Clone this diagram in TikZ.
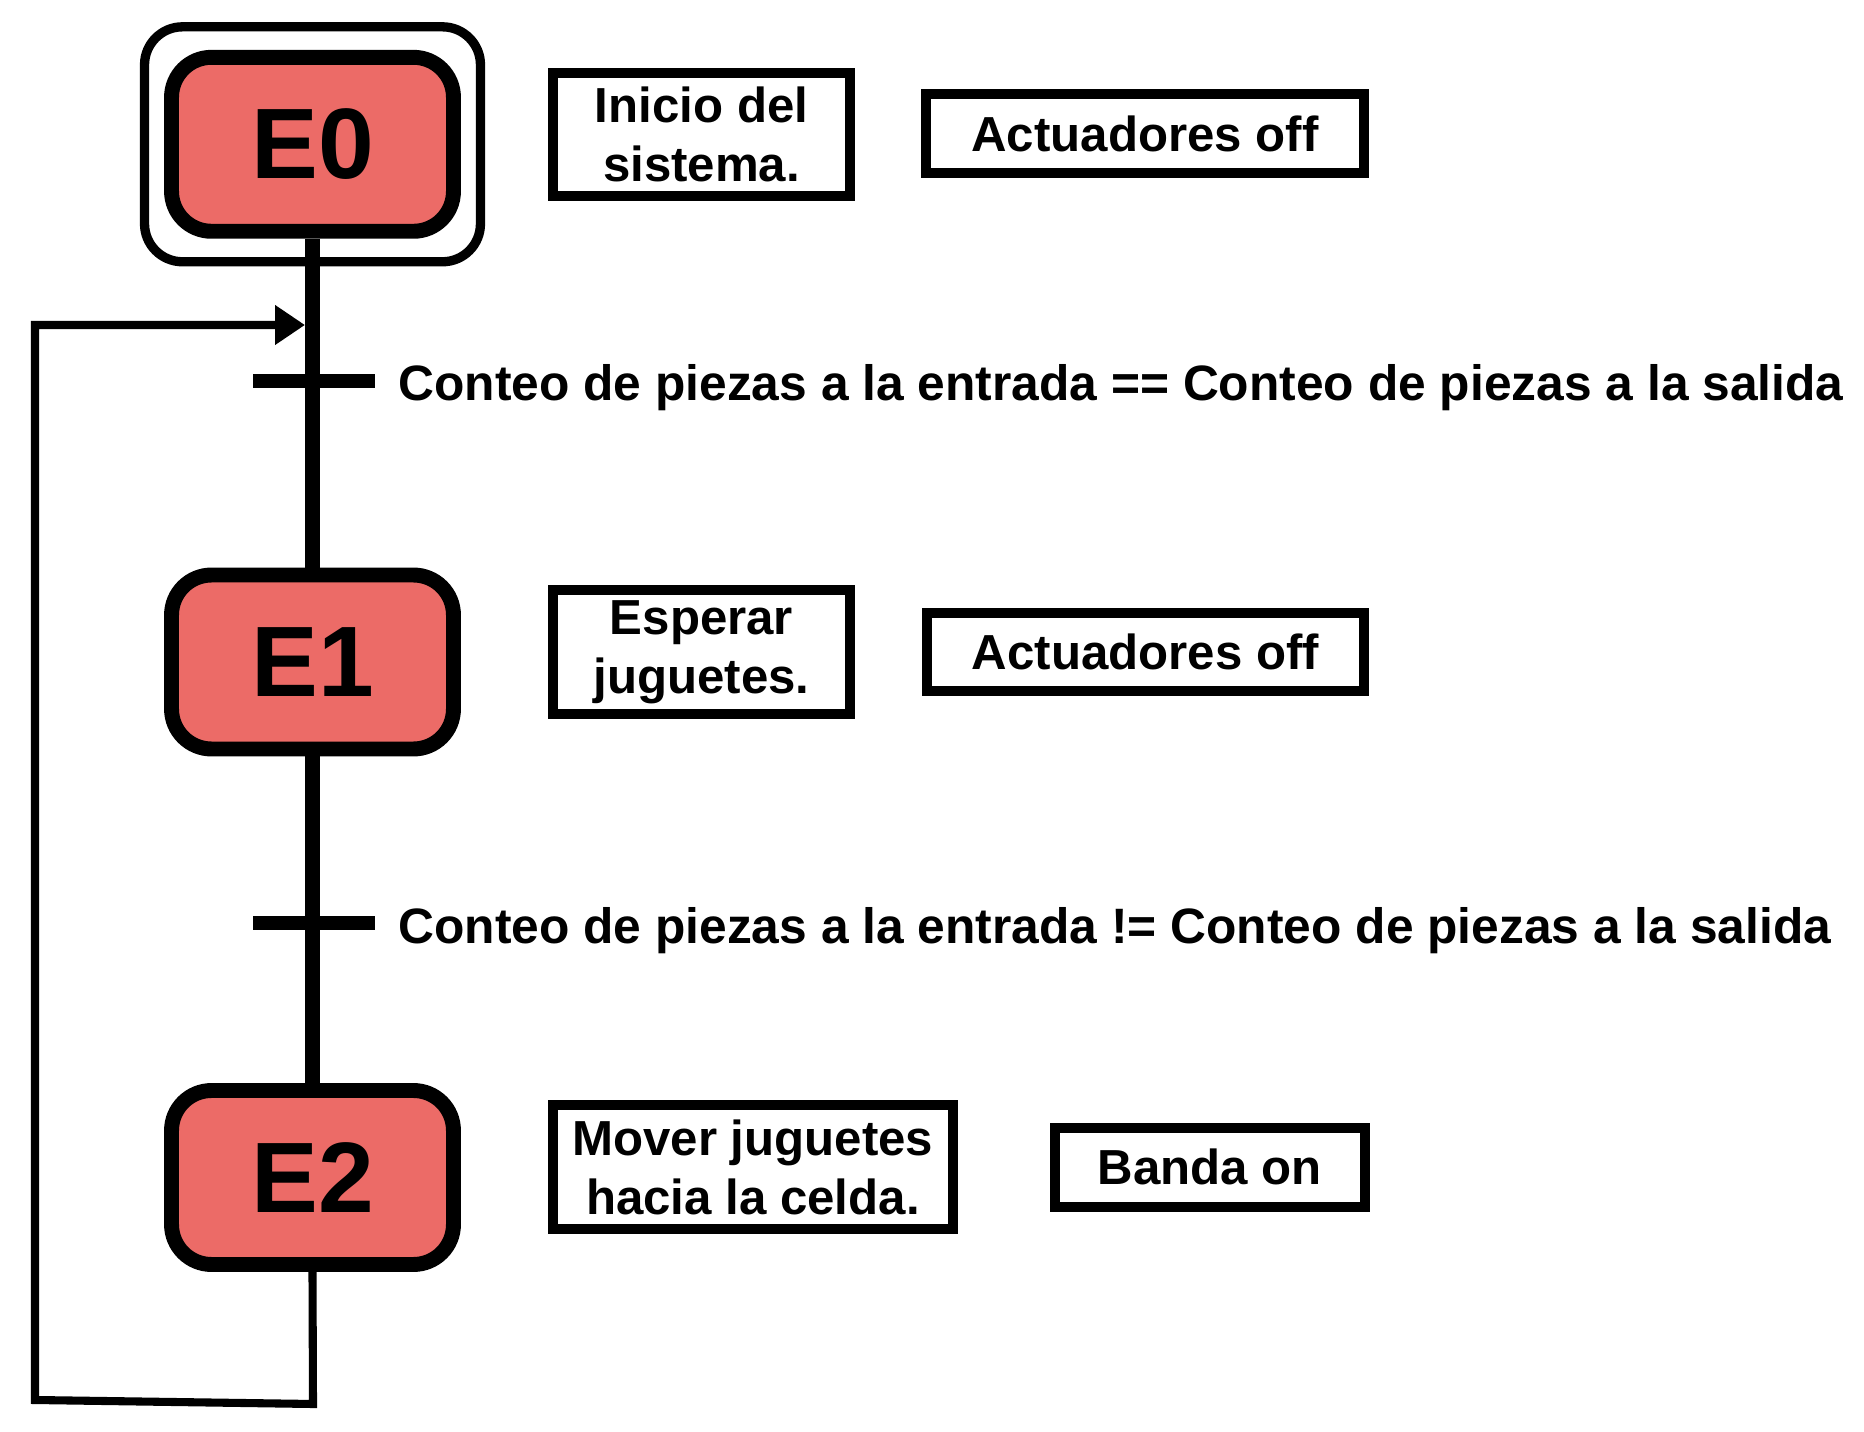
\documentclass[tikz,border=0pt]{standalone}
\usepackage{fontspec}
\setmainfont{Liberation Sans}
\usetikzlibrary{arrows.meta}
\definecolor{rojoestado}{RGB}{236,107,103}
\tikzset{
  estado/.style={draw, line width=8.5pt, fill=rojoestado, rounded corners=0.8cm,
    minimum width=5.64cm, minimum height=3.48cm, inner sep=0pt,
    font=\fontsize{57}{60}\selectfont\bfseries},
  inicial/.style={draw, line width=5.3pt, rounded corners=0.76cm,
    minimum width=6.72cm, minimum height=4.7cm, inner sep=0pt},
  accion/.style={draw, line width=5.7pt, align=center, inner sep=0pt,
    font=\fontsize{28}{33.6}\selectfont\bfseries},
  condicion/.style={anchor=base west, inner sep=0pt,
    font=\fontsize{28.3}{34}\selectfont\bfseries},
  barra/.style={fill, minimum width=2.46cm, minimum height=0.28cm, inner sep=0pt},
  enlace/.style={line width=8.5pt},
  retorno/.style={line width=4.6pt, -{Triangle[length=0.6cm, width=0.76cm]}}
}
\begin{document}
\begin{tikzpicture}[x=0.02cm,y=-0.02cm]
\useasboundingbox (0,0) rectangle (1864,1432);

% estados
\node[estado] (E0) at (312.5,144.3) {E0};
\node[inicial] (E0marco) at (E0) {};
\node[estado] (E1) at (312.5,662) {E1};
\node[estado] (E2) at (312.5,1177.5) {E2};

% acciones
\node[accion, minimum width=5.94cm, minimum height=2.47cm] (A0) at (701.5,134.3) {Inicio del\\sistema.};
\node[accion, minimum width=8.76cm, minimum height=1.58cm] (B0) at (1145,133.5) {Actuadores off};
\node[accion, minimum width=5.94cm, minimum height=2.48cm] (A1) at (701.5,652) {Esperar\\juguetes.};
\node[accion, minimum width=8.76cm, minimum height=1.56cm] (B1) at (1145.5,652) {Actuadores off};
\node[accion, minimum width=8cm, minimum height=2.48cm] (A2) at (752.9,1167) {Mover juguetes\\hacia la celda.};
\node[accion, minimum width=6.2cm, minimum height=1.57cm] (B2) at (1210,1167.4) {Banda on};

% enlaces
\draw[enlace] (E0) -- (E1);
\draw[enlace] (E1) -- (E2);

% transiciones
\node[barra] (T1) at (314,381) {};
\node[barra] (T2) at (314,923) {};
\node[condicion] (C1) at (398,401) {Conteo de piezas a la entrada == Conteo de piezas a la salida};
\node[condicion] (C2) at (398,943) {Conteo de piezas a la entrada != Conteo de piezas a la salida};

% retorno a E0
\coordinate (R1) at (313,1404);
\coordinate (R2) at (35,1400);
\coordinate (R3) at (35,325);
\coordinate (R4) at (305,325);
\draw[retorno] (E2.south) -- (R1) -- (R2) -- (R3) -- (R4);
\end{tikzpicture}
\end{document}
